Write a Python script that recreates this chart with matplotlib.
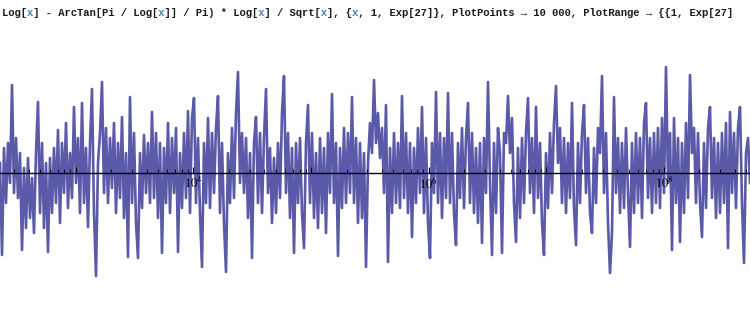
import numpy as np
import matplotlib
matplotlib.use("Agg")
import matplotlib.pyplot as plt

values = [
    10, -82, 25, -30, 30, -10, 88, -20, 35, -25, 20, -77, 5, -55, 15, -45, -5, -60, 20, 71, -40, 30, -55, 10, -79,
    15, -40, 25, -30, 43, -50, 30, -20, 50, -35, 20, -25, 66, -10, 35, -40, 70, -30, 25, -54, 30, 84, -40, -103, 10,
    40, 91, -20, 45, -30, 35, -15, 50, -40, 30, -25, 56, -45, 20, -84, 76, -30, 40, -50, -85, 20, -35, 38, -20, 30,
    -30, 61, -25, 40, -45, 30, -80, 25, -30, 50, -40, 35, -20, 45, -79, 20, -35, 40, -25, 62, -40, 55, 75, -30, 35,
    -40, -94, 30, -30, 55, -35, 40, -20, 45, 77, -40, 30, -50, -99, 20, -30, 45, -25, 60, 101, -10, 40, -20, 35, -45,
    20, -85, 30, 56, -30, 40, -40, 35, 84, -20, 25, -50, 15, -40, 30, -25, 60, 97, -20, 40, -45, 25, -80, 30, -30,
    35, -40, -75, 30, 68, -30, 40, -45, 20, -55, 35, -40, 25, -60, 40, -20, 79, -30, 30, -83, 25, -35, 45, -30, 40,
    -20, 76, -30, 35, -50, 30, -45, 20, -94, 10, 50, 20, 93, 30, 60, 15, 45, -20, 68, -89, 25, -40, 40, -30, 30,
    -35, 77, -25, 40, -40, 30, -64, 25, -30, 45, -20, 66, -40, 35, -50, -85, 30, -20, 81, -30, 40, -45, 35, -25, 80,
    -30, 40, -40, -72, 30, -25, 45, -35, 35, 70, -30, 40, -40, 25, -50, 30, -70, 35, -20, 91, -10, -82, 30, -40, 45,
    20, -80, 40, 30, 77, 20, 55, -30, -69, 25, -45, 35, -30, 40, 75, -20, 35, -40, 66, -25, 30, -50, -82, 20, -35,
    40, -20, 50, 87, 10, 45, -30, 35, -40, 30, -25, 70, -35, -72, 30, -30, 40, 68, -20, 35, -40, -60, 25, -30, 45,
    20, 97, -20, 40, -50, -100, -60, 76, -20, 35, -40, 30, -35, 45, -20, -74, 30, -40, 40, -30, 35, -45, 50, 70, -25,
    35, -40, 40, -30, 45, -35, 55, -20, 106, -10, 40, -77, 55, -30, 35, -69, 30, -40, 50, -25, 98, 20, 45, -30, 40,
    -30, -64, 30, -35, 45, 66, -25, 35, -45, 30, -40, 40, -30, 50, -75, 61, -20, 40, -35, 45, 66, -30, -90, 20, 35,
    -10,
]
log10_start = 2.355
log10_end = 8.731
tick_label_exponents = [4, 6, 8]

title_text = ("Log[x] - ArcTan[Pi / Log[x]] / Pi) * Log[x] / Sqrt[x], {x, 1, Exp[27]}, "
              "PlotPoints \u2192 10 000, PlotRange \u2192 {{1, Exp[27]")

plt.rcParams['mathtext.fontset'] = 'stix'
fig = plt.figure(figsize=(7.5, 3.2), dpi=100)
ax = fig.add_axes([0, 0, 1, 1])
ax.set_axisbelow(False)

xs = 10 ** np.linspace(log10_start, log10_end, len(values))
ax.plot(xs, values, color=(0.24, 0.24, 0.6), lw=1.9, alpha=0.85)

ax.set_xscale('log')

for s in ['top', 'left', 'right']:
    ax.spines[s].set_visible(False)
ax.spines['bottom'].set_position(('data', 0))
ax.spines['bottom'].set_linewidth(1.0)
ax.spines['bottom'].set_zorder(5)
ax.set_yticks([])

major = [10.0 ** k for k in range(2, 10)]
ax.set_xticks(major)
ax.set_xticklabels([r'$10^{%d}$' % k if k in tick_label_exponents else '' for k in range(2, 10)])
minor = [m * 10.0 ** k for k in range(2, 9) for m in range(2, 10)]
ax.set_xticks(minor, minor=True)
ax.tick_params(axis='x', which='major', direction='in', length=4, width=0.8, pad=2,
               labelsize=9)
ax.tick_params(axis='x', which='minor', direction='in', length=3, width=0.6)

ax.set_xlim(10 ** log10_start, 10 ** log10_end)
ax.set_ylim(-147, 173)

# Title: monospace bold, with the variable x shown in a lighter blue
mask = [c == 'x' and i > 0 and title_text[i - 1] in '[{' for i, c in enumerate(title_text)]
black_part = ''.join(' ' if m else c for c, m in zip(title_text, mask))
blue_part = ''.join(c if m else ' ' for c, m in zip(title_text, mask))
fp = dict(family='Liberation Mono', weight='bold', fontsize=7.55, va='center', ha='left')
fig.text(0.003, 1 - 12.5 / 320, black_part, color='#1a1a1a', **fp)
fig.text(0.003, 1 - 12.5 / 320, blue_part, color='#4a86ad', **fp)

fig.savefig('out.png', dpi=100)
